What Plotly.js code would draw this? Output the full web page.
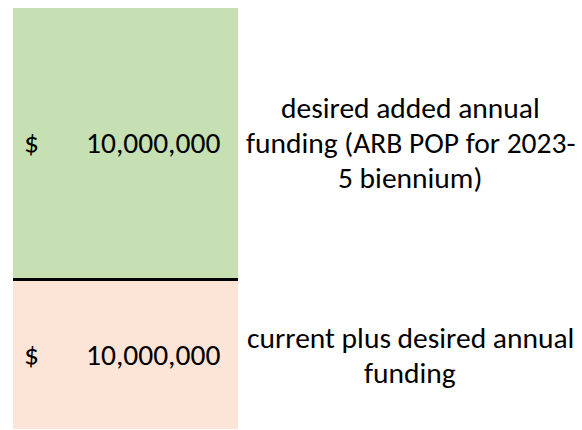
<!DOCTYPE html>
<html>
<head>
<meta charset="utf-8">
<script src="https://cdn.plot.ly/plotly-3.0.1.min.js"></script>
<style>html,body{margin:0;padding:0;background:#fff;}#chart{width:582px;height:430px;}</style>
</head>
<body>
<div id="chart"></div>
<script>
// Segments, bottom to top
var segmentNames = ["current plus desired annual funding", "divider", "desired added annual funding (ARB POP for 2023-5 biennium)"];
var segmentLabels = ["current plus desired annual<br>funding", "", "desired added annual<br>funding (ARB POP for 2023-<br>5 biennium)"];
var segmentAmounts = [10000000, null, 10000000];
var segmentHeights = [148, 3, 270];
var segmentColors = ["#FCE4D6", "#000000", "#C6E0B4"];

var FONT = "Calibri, Carlito, Lato, sans-serif";
var FS = 29.5;
var LINE = 35;

function fmt(v) { return v.toLocaleString("en-US"); }

var traces = [];
var annotations = [];
var base = 0;
for (var i = 0; i < segmentNames.length; i++) {
  traces.push({
    type: "bar", x: [0], y: [segmentHeights[i]], base: [base], width: 1,
    name: segmentNames[i], marker: {color: segmentColors[i], line: {width: 0}},
    hoverinfo: "skip", showlegend: false
  });
  var mid = base + segmentHeights[i] / 2;
  if (segmentAmounts[i] !== null) {
    annotations.push({xref: "paper", yref: "y", x: 31 / 582, y: mid, text: "$", showarrow: false,
      xanchor: "center", yanchor: "middle", font: {family: FONT, size: FS, color: "#000"}});
    annotations.push({xref: "paper", yref: "y", x: 222 / 582, y: mid, text: fmt(segmentAmounts[i]), showarrow: false,
      xanchor: "right", yanchor: "middle", font: {family: FONT, size: FS, color: "#000"}});
    var lines = segmentLabels[i].split("<br>");
    for (var k = 0; k < lines.length; k++) {
      annotations.push({xref: "paper", yref: "y", x: 410 / 582, y: mid + ((lines.length - 1) / 2 - k) * LINE,
        text: lines[k], showarrow: false, xanchor: "center", yanchor: "middle", align: "center",
        font: {family: FONT, size: FS, color: "#000"}});
    }
  }
  base += segmentHeights[i];
}

var layout = {
  width: 582, height: 430,
  margin: {l: 0, r: 0, t: 0, b: 0, pad: 0},
  paper_bgcolor: "#ffffff", plot_bgcolor: "#ffffff",
  barmode: "overlay",
  xaxis: {range: [-0.5 - 13 / 225, -0.5 + 569 / 225], visible: false, fixedrange: true},
  yaxis: {range: [-1, 429], visible: false, fixedrange: true},
  annotations: annotations,
  showlegend: false
};

Plotly.newPlot("chart", traces, layout, {displayModeBar: false, staticPlot: true});
</script>
</body>
</html>
